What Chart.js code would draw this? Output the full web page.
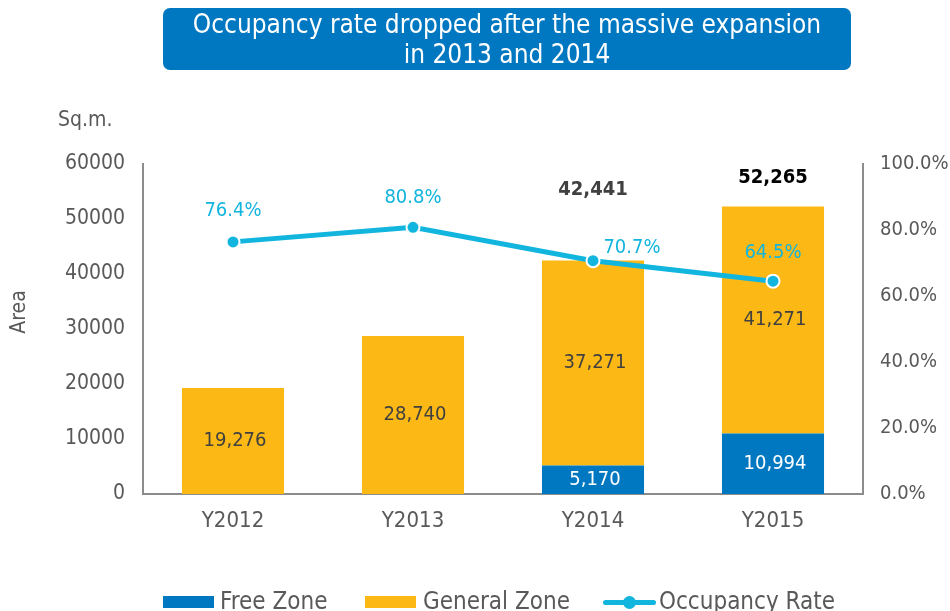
<!DOCTYPE html>
<html lang="en">
<head>
    <meta charset="UTF-8">
    <title>Occupancy rate chart</title>
    <style>
        body {
            margin: 0;
            padding: 0;
            background-color: #fff;
            overflow: hidden;
            font-family: "DejaVu Sans Condensed", sans-serif;
        }

        #wrap {
            position: relative;
            width: 950px;
            height: 611px;
            overflow: hidden;
        }

        #chart {
            position: absolute;
            left: 0;
            top: 0;
        }

        .headline {
            position: absolute;
            left: 163px;
            top: 8px;
            width: 688px;
            height: 62px;
            background-color: #0078c1;
            border-radius: 7px;
            color: #fff;
            font-size: 26px;
            line-height: 30px;
            text-align: center;
            padding-top: 1px;
            box-sizing: border-box;
        }

        .unit {
            position: absolute;
            left: 58px;
            top: 107px;
            font-size: 21px;
            color: #595959;
        }

        .axis-title {
            position: absolute;
            left: -4px;
            top: 300px;
            width: 44px;
            text-align: center;
            font-size: 21px;
            color: #595959;
            transform: rotate(-90deg);
        }

        .legend {
            position: absolute;
            top: 587px;
            left: 0;
            font-size: 24px;
            color: #595959;
        }

        .legend span {
            position: absolute;
            white-space: nowrap;
        }

        .swatch {
            position: absolute;
            width: 51px;
            height: 12px;
            top: 9px;
        }
    </style>
    <script src="https://cdn.jsdelivr.net/npm/chart.js"></script>
</head>
<body>
<div id="wrap">
    <canvas id="chart" width="950" height="611"></canvas>
    <div class="headline">Occupancy rate dropped after the massive expansion<br>in 2013 and 2014</div>
    <div class="unit">Sq.m.</div>
    <div class="axis-title">Area</div>
    <div class="legend" id="legend"></div>
</div>

<script>
    // chart values
    const years = ['Y2012', 'Y2013', 'Y2014', 'Y2015'];
    const freeZone = [0, 0, 5170, 10994];
    const generalZone = [19276, 28740, 37271, 41271];
    const totals = [null, null, 42441, 52265];
    const occupancy = [76.4, 80.8, 70.7, 64.5];
    const areaTicks = [0, 10000, 20000, 30000, 40000, 50000, 60000];
    const rateTicks = [0, 20, 40, 60, 80, 100];

    const BLUE = '#0078c1';
    const ORANGE = '#fcb814';
    const CYAN = '#12b5de';
    const GREY_TEXT = '#595959';
    const FONT = '"DejaVu Sans Condensed", sans-serif';

    // labels on the bars, totals and line points
    const labelPlugin = {
        id: 'labels',
        afterDatasetsDraw(chart) {
            const ctx = chart.ctx;
            ctx.save();
            ctx.textAlign = 'center';
            ctx.textBaseline = 'middle';

            // segment values
            [0, 1].forEach(di => {
                const meta = chart.getDatasetMeta(di);
                const values = chart.data.datasets[di].data;
                meta.data.forEach((bar, i) => {
                    if (!values[i]) return;
                    ctx.font = '20px ' + FONT;
                    ctx.fillStyle = di === 0 ? '#ffffff' : '#404040';
                    const y = (bar.y + bar.base) / 2;
                    ctx.fillText(values[i].toLocaleString('en-US'), bar.x + 2, y);
                });
            });

            // totals above the stacks
            const yScale = chart.scales.y;
            const xScale = chart.scales.x;
            const totalLift = [0, 0, 71, 29];
            const totalColor = ['#404040', '#404040', '#404040', '#000000'];
            totals.forEach((t, i) => {
                if (t == null) return;
                ctx.font = 'bold 20px ' + FONT;
                ctx.fillStyle = totalColor[i];
                ctx.fillText(t.toLocaleString('en-US'), xScale.getPixelForValue(i), yScale.getPixelForValue(t) - totalLift[i]);
            });

            // occupancy labels
            const lineMeta = chart.getDatasetMeta(2);
            const dx = [0, 0, 39, 0];
            const dy = [-31, -30, -13, -28];
            ctx.font = '20px ' + FONT;
            ctx.fillStyle = CYAN;
            lineMeta.data.forEach((pt, i) => {
                ctx.fillText(occupancy[i].toFixed(1) + '%', pt.x + dx[i], pt.y + dy[i]);
            });
            ctx.restore();
        }
    };

    const chart = new Chart(document.getElementById('chart'), {
        type: 'bar',
        data: {
            labels: years,
            datasets: [
                {
                    label: 'Free Zone',
                    data: freeZone,
                    backgroundColor: BLUE,
                    yAxisID: 'y',
                    order: 1
                },
                {
                    label: 'General Zone',
                    data: generalZone,
                    backgroundColor: ORANGE,
                    yAxisID: 'y',
                    order: 1
                },
                {
                    type: 'line',
                    label: 'Occupancy Rate',
                    data: occupancy,
                    borderColor: CYAN,
                    borderWidth: 5,
                    pointRadius: 6.5,
                    pointBackgroundColor: CYAN,
                    pointBorderColor: '#ffffff',
                    pointBorderWidth: 2,
                    yAxisID: 'y1',
                    order: 0
                }
            ]
        },
        options: {
            responsive: false,
            animation: false,
            layout: {
                padding: { top: 164, left: 0, right: 0, bottom: 0 }
            },
            plugins: {
                legend: { display: false },
                tooltip: { enabled: false }
            },
            datasets: {
                bar: {
                    categoryPercentage: 1,
                    barPercentage: 0.567
                }
            },
            scales: {
                x: {
                    stacked: true,
                    grid: { display: false, drawTicks: false },
                    border: { display: true, color: '#8c8c8c', width: 2 },
                    ticks: {
                        color: GREY_TEXT,
                        font: { family: FONT, size: 22 },
                        padding: 14
                    },
                    afterFit(scale) { scale.height = 611 - 164 - 330; }
                },
                y: {
                    stacked: true,
                    position: 'left',
                    min: 0,
                    max: 60000,
                    grid: { display: false, drawTicks: false },
                    border: { display: true, color: '#8c8c8c', width: 2 },
                    afterBuildTicks(scale) { scale.ticks = areaTicks.map(v => ({ value: v })); },
                    ticks: {
                        color: GREY_TEXT,
                        font: { family: FONT, size: 21 },
                        padding: 18,
                        callback: v => String(v)
                    },
                    afterFit(scale) { scale.width = 143; }
                },
                y1: {
                    position: 'right',
                    min: 0,
                    max: 100,
                    grid: { display: false, drawTicks: false },
                    border: { display: true, color: '#8c8c8c', width: 2 },
                    afterBuildTicks(scale) { scale.ticks = rateTicks.map(v => ({ value: v })); },
                    ticks: {
                        color: GREY_TEXT,
                        font: { family: FONT, size: 20 },
                        padding: 17,
                        callback: v => v.toFixed(1) + '%'
                    },
                    afterFit(scale) { scale.width = 950 - 863; }
                }
            }
        },
        plugins: [labelPlugin]
    });

    // legend below the chart
    function buildLegend() {
        const legend = document.getElementById('legend');
        const items = [
            { text: chart.data.datasets[0].label, color: BLUE, kind: 'box', box: 163, label: 220 },
            { text: chart.data.datasets[1].label, color: ORANGE, kind: 'box', box: 365, label: 423 },
            { text: chart.data.datasets[2].label, color: CYAN, kind: 'line', box: 603, label: 659 }
        ];
        items.forEach(item => {
            if (item.kind === 'box') {
                const sw = document.createElement('div');
                sw.className = 'swatch';
                sw.style.left = item.box + 'px';
                sw.style.background = item.color;
                legend.appendChild(sw);
            } else {
                const ln = document.createElement('div');
                ln.className = 'swatch';
                ln.style.left = item.box + 'px';
                ln.style.width = '53px';
                ln.style.height = '5px';
                ln.style.top = '13px';
                ln.style.borderRadius = '3px';
                ln.style.background = item.color;
                legend.appendChild(ln);
                const dot = document.createElement('div');
                dot.className = 'swatch';
                dot.style.left = (item.box + 20) + 'px';
                dot.style.width = '13px';
                dot.style.height = '13px';
                dot.style.top = '9px';
                dot.style.borderRadius = '50%';
                dot.style.background = item.color;
                legend.appendChild(dot);
            }
            const sp = document.createElement('span');
            sp.textContent = item.text;
            sp.style.left = item.label + 'px';
            legend.appendChild(sp);
        });
    }
    buildLegend();
</script>
</body>
</html>
